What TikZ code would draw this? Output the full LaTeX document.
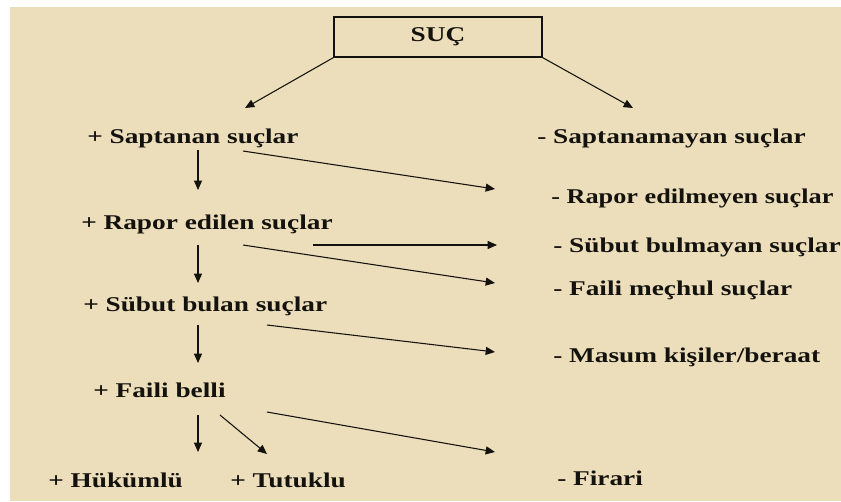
\documentclass[tikz,border=0pt]{standalone}
\usepackage{fontspec}
\setmainfont{Liberation Serif}[FakeStretch=1.3]
\newfontfamily\narrowserif{Liberation Serif}[FakeStretch=1.25]
\usetikzlibrary{arrows.meta}

\definecolor{paper}{RGB}{236,222,186}
\definecolor{ink}{RGB}{20,18,14}

\begin{document}
\begin{tikzpicture}[
    x=0.75pt, y=-0.75pt,
    item/.style = {anchor=base west, inner sep=0pt, text=ink,
                   font=\fontsize{15.75}{18}\selectfont\bfseries},
    topbox/.style = {draw=ink, line width=0.9pt, minimum width=156pt,
                     minimum height=30pt, text=ink,
                     font=\fontsize{15.75}{18}\selectfont\bfseries},
    arr/.style = {draw=ink, line width=0.8pt,
                  -{Triangle[length=7pt, width=6pt]}}
  ]

  % page and paper
  \useasboundingbox (0,0) rectangle (841,501);
  \fill[paper] (10,7) rectangle (841,501);

  \node[topbox] (suc) at (438,37) {SUÇ};

  % found side
  \node[item] (sap) at (87,143) {+ Saptanan suçlar};
  \node[item] (rap) at (81,229) {+ Rapor edilen suçlar};
  \node[item] (sb) at (83,311) {+ Sübut bulan suçlar};
  \node[item] (fb) at (93,397) {+ Faili belli};
  \node[item] (hk) at (48,487) {+ Hükümlü};
  \node[item] (tt) at (230,487) {+ Tutuklu};

  % lost side
  \node[item] (sapm) at (537,143) {- Saptanamayan suçlar};
  \node[item, font=\fontsize{15.75}{18}\narrowserif\bfseries] (rapm) at (551,203) {- Rapor edilmeyen suçlar};
  \node[item] (sbm) at (553,252) {- Sübut bulmayan suçlar};
  \node[item] (fm) at (553,295) {- Faili meçhul suçlar};
  \node[item] (mk) at (553,362) {- Masum kişiler/beraat};
  \node[item] (fi) at (557,485) {- Firari};

  \draw[arr] (suc.south west) -- ([shift={(158,-35)}]sap.base west);
  \draw[arr] (suc.south east) -- ([shift={(96,-35)}]sapm.base west);

  \draw[arr] ([shift={(111,7)}]sap.base west) -- ([shift={(117,-39)}]rap.base west);
  \draw[arr] ([shift={(117,16)}]rap.base west) -- ([shift={(115,-28)}]sb.base west);
  \draw[arr] ([shift={(115,14)}]sb.base west) -- ([shift={(105,-34)}]fb.base west);
  \draw[arr] ([shift={(105,18)}]fb.base west) -- ([shift={(150,-35)}]hk.base west);
  \draw[arr] ([shift={(127,18)}]fb.base west) -- ([shift={(37,-33)}]tt.base west);

  \draw[arr] ([shift={(156,8)}]sap.base west) -- ([shift={(-56,-14)}]rapm.base west);
  \draw[arr] ([shift={(232,16)}]rap.base west) -- ([shift={(-56,-7)}]sbm.base west);
  \draw[arr] ([shift={(162,16)}]rap.base west) -- ([shift={(-58,-12)}]fm.base west);
  \draw[arr] ([shift={(184,14)}]sb.base west) -- ([shift={(-58,-10)}]mk.base west);
  \draw[arr] ([shift={(174,15)}]fb.base west) -- ([shift={(-62,-33)}]fi.base west);

\end{tikzpicture}
\end{document}
